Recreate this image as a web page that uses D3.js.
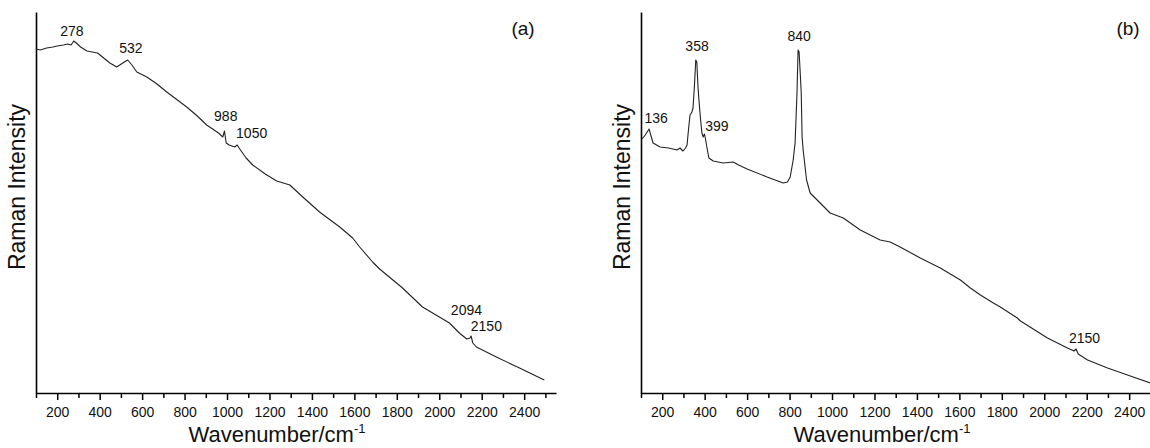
<!DOCTYPE html>
<html>
<head>
<meta charset="utf-8">
<script src="https://cdn.jsdelivr.net/npm/d3@7"></script>
<style>
  body { margin: 0; background: #fff; }
  text { font-family: "Liberation Sans", Arial, sans-serif; fill: #111; }
</style>
</head>
<body>
<div id="chart"></div>
<script>
// Raman spectra, intensity in arbitrary units
var waveA = [100, 120, 150, 180, 200, 230, 250, 265, 278, 290, 310, 340, 390, 448, 480, 509, 532, 552, 575, 622, 670, 716, 760, 810, 860, 904, 960, 980, 988, 996, 1010, 1036, 1048, 1060, 1090, 1121, 1180, 1234, 1296, 1357, 1436, 1531, 1592, 1625, 1686, 1719, 1827, 1921, 2048, 2090, 2100, 2130, 2145, 2150, 2158, 2175, 2269, 2378, 2495];
var valueA = [344, 343, 345, 346, 347, 348, 349, 348, 352, 350, 346, 342, 340, 330, 326, 330, 333, 328, 321, 316, 309, 301, 294, 286, 277, 268, 260, 256, 262, 250, 248, 246, 248, 244, 235, 228, 219, 212, 208, 196, 181, 166, 155, 146, 131, 124, 105, 86, 70, 61, 59, 54, 55, 57, 50, 46, 36, 25, 13];

var waveB = [105, 120, 138, 150, 157, 190, 230, 270, 284, 298, 310, 317, 325, 331, 340, 345, 352, 358, 363, 368, 373, 380, 387, 393, 399, 403, 411, 420, 440, 487, 534, 560, 600, 694, 770, 790, 803, 817, 826, 835, 840, 845, 855, 859, 864, 880, 897, 944, 991, 1053, 1100, 1133, 1227, 1274, 1321, 1416, 1510, 1605, 1652, 1699, 1760, 1793, 1873, 1888, 2015, 2109, 2140, 2150, 2160, 2204, 2298, 2392, 2500];
var valueB = [254, 258, 264, 255, 250, 246, 245, 243, 245, 242, 245, 248, 266, 278, 281, 285, 308, 333, 331, 308, 293, 275, 260, 256, 259, 255, 245, 235, 232, 230, 231, 228, 224, 216, 210, 211, 216, 233, 250, 300, 343, 341, 300, 256, 243, 213, 200, 190, 180, 175, 168, 163, 153, 151, 146, 135, 125, 113, 105, 98, 90, 86, 75, 72, 55, 45, 42, 44, 39, 33, 25, 18, 10];

// peak annotations: text, label centre (wavenumber, intensity)
var peaksA = ["278", "532", "988", "1050", "2094", "2150"];
var peakLabelWaveA = [269, 547, 994, 1116, 2128, 2222];
var peakLabelValueA = [362, 345, 277, 260, 83, 67];

var peaksB = ["136", "358", "399", "840", "2150"];
var peakLabelWaveB = [171, 364, 458, 845, 2190];
var peakLabelValueB = [275, 347, 267, 357, 55];

var majorTicks = [200, 400, 600, 800, 1000, 1200, 1400, 1600, 1800, 2000, 2200, 2400];
var minorTicks = [100, 300, 500, 700, 900, 1100, 1300, 1500, 1700, 1900, 2100, 2300, 2500];

var svg = d3.select("#chart").append("svg")
    .attr("width", 1150)
    .attr("height", 448);

function drawPanel(left, waves, values, labels, labelWaves, labelValues, tag) {
    var x = d3.scaleLinear().domain([100, 2550]).range([left, left + 520]);
    var y = d3.scaleLinear().domain([0, 381]).range([393, 12]);

    var g = svg.append("g");

    // minor ticks
    g.append("g")
        .attr("transform", "translate(0,393)")
        .call(d3.axisBottom(x).tickValues(minorTicks).tickSize(5).tickFormat(""))
        .call(a => a.select(".domain").remove())
        .selectAll("line").attr("stroke", "#000").attr("stroke-width", 1.5);

    var xAxis = g.append("g")
        .attr("transform", "translate(0,393)")
        .call(d3.axisBottom(x).tickValues(majorTicks).tickSize(7).tickPadding(7)
            .tickSizeOuter(0).tickFormat(d3.format("d")));
    xAxis.select(".domain").attr("stroke", "#000").attr("stroke-width", 1.6);
    xAxis.selectAll("line").attr("stroke", "#000").attr("stroke-width", 1.5);
    xAxis.selectAll("text")
        .attr("font-size", 14)
        .attr("font-family", "Liberation Sans, Arial, sans-serif")
        .attr("fill", "#111");

    var yAxis = g.append("g")
        .attr("transform", "translate(" + left + ",0)")
        .call(d3.axisLeft(y).tickValues([]).tickSizeOuter(0));
    yAxis.select(".domain").attr("stroke", "#000").attr("stroke-width", 1.6);

    var line = d3.line()
        .x((d, i) => x(waves[i]))
        .y(d => y(d));

    g.append("path")
        .datum(values)
        .attr("fill", "none")
        .attr("stroke", "#222")
        .attr("stroke-width", 1.1)
        .attr("stroke-linejoin", "round")
        .attr("d", line);

    g.selectAll(".peak")
        .data(labels)
        .enter()
        .append("text")
        .attr("class", "peak")
        .attr("x", (d, i) => x(labelWaves[i]))
        .attr("y", (d, i) => y(labelValues[i]))
        .attr("dy", "0.36em")
        .attr("text-anchor", "middle")
        .attr("font-size", 14)
        .text(d => d);

    var title = g.append("text")
        .attr("x", left + 241)
        .attr("y", 442)
        .attr("text-anchor", "middle")
        .attr("font-size", 22);
    title.append("tspan").text("Wavenumber/cm");
    title.append("tspan").attr("font-size", 13).attr("dy", -9).text("-1");

    g.append("text")
        .attr("transform", "translate(" + (left - 11) + ",187) rotate(-90)")
        .attr("text-anchor", "middle")
        .attr("font-size", 23)
        .text("Raman Intensity");

    g.append("text")
        .attr("x", left + 487)
        .attr("y", 35)
        .attr("text-anchor", "middle")
        .attr("font-size", 19)
        .text(tag);
}

drawPanel(36, waveA, valueA, peaksA, peakLabelWaveA, peakLabelValueA, "(a)");
drawPanel(641, waveB, valueB, peaksB, peakLabelWaveB, peakLabelValueB, "(b)");
</script>
</body>
</html>
